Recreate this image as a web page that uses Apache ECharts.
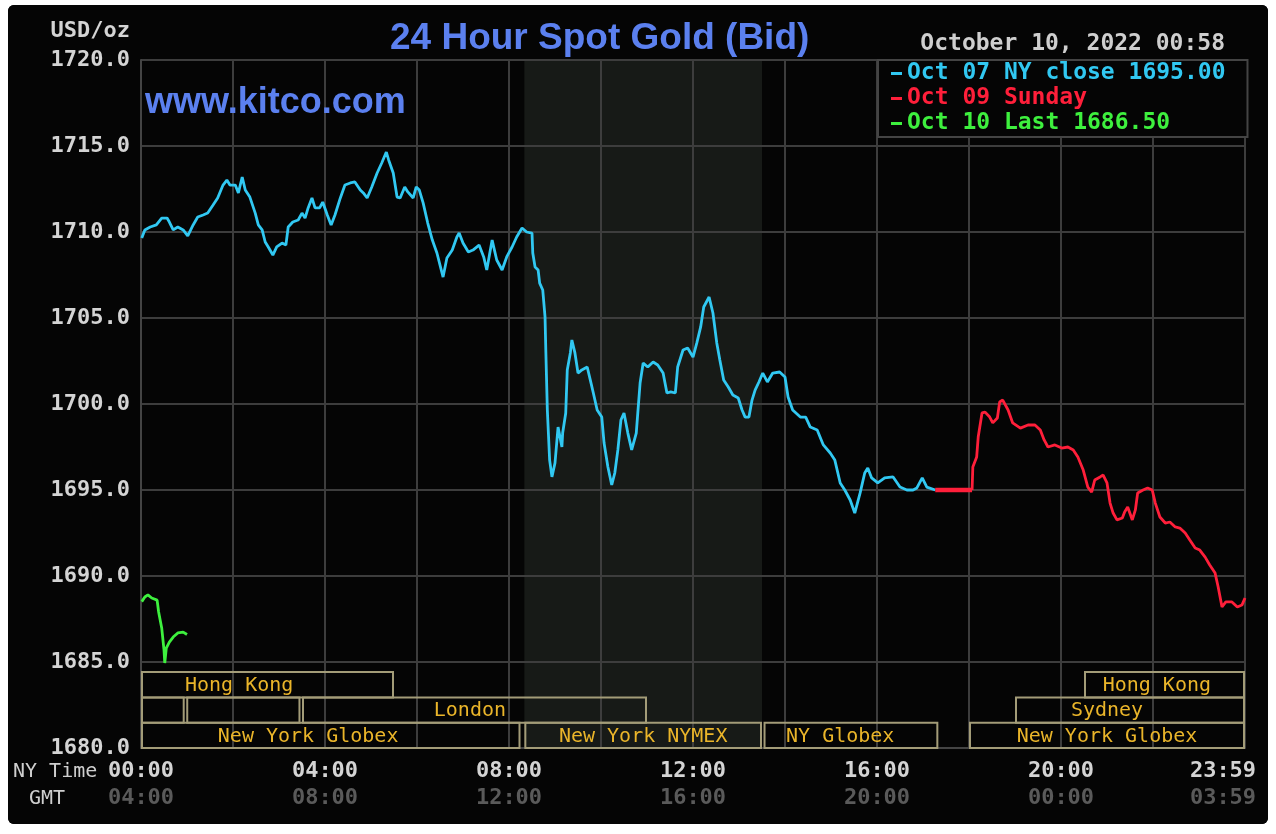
<!DOCTYPE html>
<html>
<head>
<meta charset="utf-8">
<script src="https://cdn.jsdelivr.net/npm/echarts@6/dist/echarts.min.js"></script>
<style>
  html, body { margin: 0; padding: 0; background: #ffffff; width: 1276px; height: 834px; overflow: hidden; }
  #chart { position: absolute; left: 8px; top: 5px; width: 1260px; height: 819px; background: #050505; border-radius: 6px; overflow: hidden; }
</style>
</head>
<body>
<div id="chart"></div>
<script>
// ---------- DATA ----------
// time in minutes after 00:00 NY time, value in USD/oz
const oct07Name = 'Oct 07 NY close 1695.00';
const oct09Name = 'Oct 09 Sunday';
const oct10Name = 'Oct 10 Last 1686.50';

const oct07Minutes = [1,5,12,20,27,34,37,42,48,55,61,68,74,81,87,94,100,107,112,116,123,127,132,136,142,149,153,158,162,166,172,177,184,189,192,198,205,210,214,218,223,227,233,237,243,248,253,260,266,273,279,286,290,295,301,308,314,320,323,329,334,338,344,348,355,359,363,368,374,380,386,394,399,406,412,415,420,427,433,441,447,451,458,464,471,477,484,490,497,503,510,511,514,518,520,524,527,528,530,533,536,540,544,549,550,554,556,560,562,566,570,575,582,586,590,595,601,604,609,614,618,622,626,630,635,640,646,648,651,655,661,668,674,681,686,691,697,700,707,713,720,725,730,734,741,746,751,755,760,766,772,779,784,788,793,797,801,806,811,817,824,833,840,844,850,860,867,873,882,890,899,905,912,918,925,931,938,944,948,953,961,970,981,990,999,1007,1012,1019,1025,1036];
const oct07Values = [1709.65,1710.12,1710.29,1710.41,1710.81,1710.81,1710.58,1710.12,1710.29,1710.12,1709.77,1710.41,1710.87,1710.99,1711.10,1711.57,1711.98,1712.73,1713.02,1712.73,1712.73,1712.27,1713.20,1712.44,1712.03,1711.10,1710.41,1710.12,1709.42,1709.13,1708.66,1709.13,1709.36,1709.24,1710.29,1710.58,1710.70,1711.10,1710.81,1711.40,1711.98,1711.40,1711.40,1711.74,1710.99,1710.41,1710.99,1711.98,1712.73,1712.85,1712.91,1712.44,1712.27,1711.98,1712.62,1713.43,1714.01,1714.65,1714.19,1713.43,1712.03,1711.98,1712.62,1712.33,1711.98,1712.62,1712.44,1711.69,1710.52,1709.53,1708.78,1707.38,1708.49,1708.95,1709.71,1709.94,1709.36,1708.84,1708.95,1709.24,1708.55,1707.79,1709.53,1708.37,1707.79,1708.55,1709.13,1709.71,1710.23,1710.00,1709.94,1708.78,1707.97,1707.79,1707.03,1706.63,1705.06,1703.14,1699.65,1696.74,1695.76,1696.57,1698.66,1697.50,1698.31,1699.48,1701.98,1702.97,1703.72,1702.97,1701.80,1701.98,1702.15,1701.40,1700.64,1699.65,1699.24,1697.73,1696.34,1695.29,1695.99,1697.33,1699.07,1699.48,1698.31,1697.33,1698.31,1699.48,1701.22,1702.38,1702.15,1702.44,1702.27,1701.80,1700.64,1700.70,1700.64,1702.15,1703.14,1703.26,1702.73,1703.55,1704.48,1705.64,1706.22,1705.29,1703.55,1702.56,1701.40,1700.99,1700.52,1700.35,1699.65,1699.24,1699.24,1700.23,1700.81,1701.28,1701.80,1701.28,1701.80,1701.86,1701.57,1700.41,1699.65,1699.24,1699.24,1698.66,1698.49,1697.62,1697.15,1696.74,1695.41,1695.00,1694.42,1693.66,1694.83,1695.99,1696.28,1695.70,1695.41,1695.70,1695.76,1695.17,1695.00,1695.00,1695.12,1695.70,1695.17,1695.00];

// Sunday: flat carry-over from the Friday close until the 18:00 reopen, then trading
const oct09FlatMinutes = [1036,1084];
const oct09FlatValues = [1695.00,1695.00];
const oct09Minutes = [1084,1085,1090,1092,1097,1101,1107,1111,1117,1120,1124,1131,1137,1147,1157,1166,1173,1178,1183,1192,1201,1209,1216,1222,1229,1235,1240,1244,1251,1255,1260,1264,1268,1273,1280,1283,1287,1293,1297,1300,1307,1313,1319,1323,1329,1336,1342,1349,1355,1362,1368,1375,1381,1388,1394,1401,1405,1410,1415,1423,1430,1436,1440];
const oct09Values = [1695.00,1696.34,1696.92,1698.08,1699.48,1699.53,1699.24,1698.90,1699.19,1700.12,1700.23,1699.65,1698.90,1698.60,1698.78,1698.78,1698.49,1697.91,1697.50,1697.62,1697.44,1697.50,1697.33,1696.92,1696.16,1695.17,1694.88,1695.58,1695.76,1695.87,1695.41,1694.24,1693.66,1693.26,1693.37,1693.72,1694.01,1693.26,1693.84,1694.83,1695.00,1695.12,1695.00,1694.24,1693.43,1693.08,1693.14,1692.85,1692.79,1692.50,1692.09,1691.63,1691.51,1691.10,1690.64,1690.17,1689.36,1688.20,1688.49,1688.49,1688.20,1688.31,1688.72];

const oct10Minutes = [1,5,9,14,21,23,27,30,31,33,37,42,48,55,60];
const oct10Values = [1688.51,1688.78,1688.90,1688.72,1688.60,1687.91,1686.98,1685.70,1684.94,1685.81,1686.16,1686.45,1686.69,1686.74,1686.60];

// tick labels (every 4 hours)
const nyTickLabels  = ['00:00','04:00','08:00','12:00','16:00','20:00','23:59'];
const gmtTickLabels = ['04:00','08:00','12:00','16:00','20:00','00:00','03:59'];

// trading sessions: start minute, end minute, row (0 = top), label anchor minute
const sessionStart = [0,   1230, 0,   59,  210, 1140, 0,   500, 812, 1080];
const sessionEnd   = [330, 1440, 57,  208, 660, 1440, 495, 810, 1040, 1440];
const sessionRow   = [0,   0,    1,   1,   1,   1,    2,   2,   2,   2];
const sessionLabelAt = [128, 1325, 28, 133, 429, 1260, 218, 655, 912, 1260];
const sessionLabels = ['Hong Kong','Hong Kong','','','London','Sydney','New York Globex','New York NYMEX','NY Globex','New York Globex'];

// NYMEX shaded period
const shadeStart = [500];
const shadeEnd = [810];

// ---------- BUILD ----------
const zip = (a, b) => a.map((v, i) => [v, b[i]]);
const sessions = sessionStart.map((s, i) => ({ value: [s, sessionEnd[i], sessionRow[i], sessionLabelAt[i]], name: sessionLabels[i] }));
const shade = shadeStart.map((s, i) => [s, shadeEnd[i]]);

const MONO = '"DejaVu Sans Mono", "Liberation Mono", monospace';
const cyan = '#31c8f2', red = '#ff1f3a', green = '#3ef03e';

const chart = echarts.init(document.getElementById('chart'));
const option = {
  backgroundColor: '#050505',
  animation: false,
  title: {
    text: '24 Hour Spot Gold (Bid)',
    left: 377, top: 10,
    textStyle: { color: '#5b80ef', fontSize: 37, fontWeight: 'bold', fontFamily: '"Liberation Sans", Arial, sans-serif' }
  },
  legend: {
    orient: 'vertical',
    left: 870, top: 55,
    backgroundColor: '#050505',
    borderColor: '#444444',
    borderWidth: 2,
    padding: [2, 22, 2, 13],
    itemGap: 2,
    itemWidth: 11, itemHeight: 3,
    icon: 'rect',
    selectedMode: false,
    textStyle: { fontFamily: MONO, fontSize: 23, fontWeight: 'bold' },
    data: [
      { name: oct07Name, textStyle: { color: cyan } },
      { name: oct09Name, textStyle: { color: red } },
      { name: oct10Name, textStyle: { color: green } }
    ]
  },
  grid: { left: 133, top: 55, right: 23, bottom: 76, containLabel: false, outerBoundsMode: 'none' },
  xAxis: {
    type: 'value', min: 0, max: 1440, interval: 120,
    axisLine: { show: true, lineStyle: { color: '#444444', width: 2 } },
    axisTick: { show: false },
    splitLine: { show: true, lineStyle: { color: '#3d3d3d', width: 2 } },
    axisLabel: {
      margin: 10,
      formatter: v => {
        if (v % 240 !== 0) return '';
        const i = v / 240;
        const last = i === nyTickLabels.length - 1;
        return last ? `{nyl|${nyTickLabels[i]}}\n{gmtl|${gmtTickLabels[i]}}` : `{ny|${nyTickLabels[i]}}\n{gmt|${gmtTickLabels[i]}}`;
      },
      rich: {
        ny:  { fontFamily: MONO, fontSize: 22, fontWeight: 'bold', color: '#d4d4d4', lineHeight: 27 },
        gmt: { fontFamily: MONO, fontSize: 22, fontWeight: 'bold', color: '#5a5a5a', lineHeight: 27 },
        nyl:  { fontFamily: MONO, fontSize: 22, fontWeight: 'bold', color: '#d4d4d4', lineHeight: 27, padding: [0, 44, 0, 0] },
        gmtl: { fontFamily: MONO, fontSize: 22, fontWeight: 'bold', color: '#5a5a5a', lineHeight: 27, padding: [0, 44, 0, 0] }
      }
    }
  },
  yAxis: {
    type: 'value', min: 1680, max: 1720, interval: 5,
    name: 'USD/oz',
    nameLocation: 'end',
    nameGap: 18,
    nameTextStyle: { color: '#d4d4d4', fontFamily: MONO, fontSize: 22, fontWeight: 'bold', align: 'right', padding: [0, 11, 0, 0] },
    axisLine: { show: true, lineStyle: { color: '#444444', width: 2 } },
    axisTick: { show: false },
    splitLine: { show: true, lineStyle: { color: '#3d3d3d', width: 2 } },
    axisLabel: {
      margin: 11,
      color: '#d4d4d4', fontFamily: MONO, fontSize: 22, fontWeight: 'bold',
      formatter: v => v.toFixed(1)
    }
  },
  graphic: [
    { type: 'text', x: 137, y: 98, z: 10,
      style: { text: 'www.kitco.com', fill: '#5b80ef', font: 'bold 36px "Liberation Sans", Arial, sans-serif', verticalAlign: 'middle' } },
    { type: 'text', right: 43, top: 28, z: 10,
      style: { text: 'October 10, 2022 00:58', fill: '#cfcfcf', font: 'bold 23px ' + MONO } },
    { type: 'text', x: 5, y: 767, z: 10,
      style: { text: 'NY Time', fill: '#cfcfcf', font: '20px ' + MONO, verticalAlign: 'middle' } },
    { type: 'text', x: 21, y: 794, z: 10,
      style: { text: 'GMT', fill: '#cfcfcf', font: '20px ' + MONO, verticalAlign: 'middle' } }
  ],
  series: [
    {
      type: 'custom', name: 'shade', z: -1, silent: true,
      data: shade,
      encode: { x: [0, 1] },
      renderItem: (params, api) => {
        const p0 = api.coord([api.value(0), 1720]);
        const p1 = api.coord([api.value(1), 1680]);
        return { type: 'rect', shape: { x: p0[0], y: p0[1], width: p1[0] - p0[0], height: p1[1] - p0[1] }, style: { fill: '#171a17' } };
      }
    },
    {
      type: 'custom', name: 'sessions', z: 1, silent: true,
      data: sessions,
      encode: { x: [0, 1] },
      renderItem: (params, api) => {
        const s = api.value(0), e = api.value(1), row = api.value(2), at = api.value(3);
        const pb = api.coord([s, 1680]);
        const pe = api.coord([e, 1680]);
        const rowH = 25.3;
        const top = pb[1] - (3 - row) * rowH;
        const lbl = sessionLabels[params.dataIndex];
        const children = [{
          type: 'rect',
          shape: { x: pb[0] + 1, y: top, width: pe[0] - pb[0] - 2, height: rowH },
          style: { fill: null, stroke: '#a39c78', lineWidth: 2 }
        }];
        if (lbl) {
          children.push({
            type: 'text',
            style: { text: lbl, x: api.coord([at, 1680])[0], y: top + rowH / 2 + 1, align: 'center', verticalAlign: 'middle', fill: '#eab52a', font: '20px ' + MONO }
          });
        }
        return { type: 'group', children };
      }
    },
    { type: 'line', name: oct07Name, data: zip(oct07Minutes, oct07Values), showSymbol: false, z: 5,
      lineStyle: { color: cyan, width: 2.8 }, itemStyle: { color: cyan } },
    { type: 'line', name: 'Oct 09 flat', data: zip(oct09FlatMinutes, oct09FlatValues), showSymbol: false, z: 5,
      lineStyle: { color: red, width: 4.5 }, itemStyle: { color: red } },
    { type: 'line', name: oct09Name, data: zip(oct09Minutes, oct09Values), showSymbol: false, z: 5,
      lineStyle: { color: red, width: 2.8 }, itemStyle: { color: red } },
    { type: 'line', name: oct10Name, data: zip(oct10Minutes, oct10Values), showSymbol: false, z: 5,
      lineStyle: { color: green, width: 2.8 }, itemStyle: { color: green } }
  ]
};
chart.setOption(option);
</script>
</body>
</html>
